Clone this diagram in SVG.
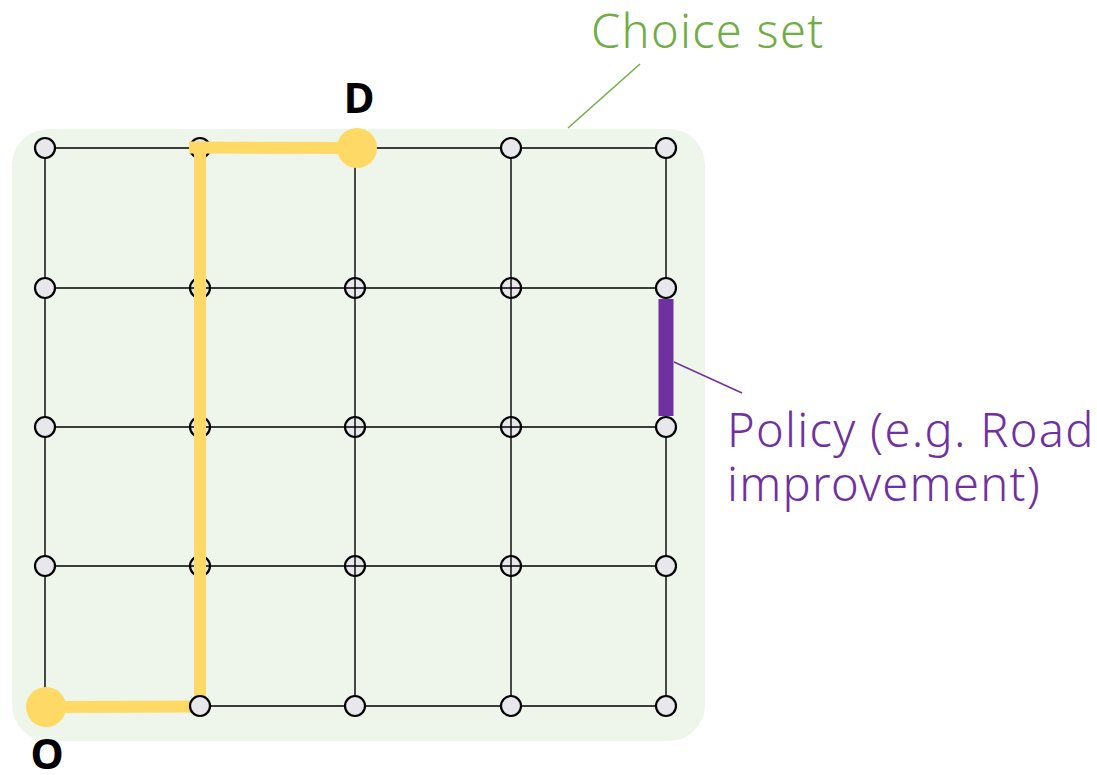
<svg xmlns="http://www.w3.org/2000/svg" width="1097" height="775" viewBox="0 0 1097 775">
  <style>
    .grid { stroke: #000; stroke-width: 1.4; fill: none; }
    .node { fill: #e8e7eb; stroke: #000; stroke-width: 2.2; }
    .path { stroke: #ffd966; stroke-width: 12; fill: none; }
    .end { fill: #ffd966; }
    .lbl { font-family: "Noto Sans", "Liberation Sans", sans-serif; font-size: 47px; font-weight: 300; letter-spacing: 1.3px; }
    .od { font-family: "Noto Sans", "Liberation Sans", sans-serif; font-size: 42px; font-weight: bold; fill: #000; text-anchor: middle; }
  </style>
  <defs>
    <circle id="n" r="10" class="node"/>
  </defs>

  <!-- choice set area -->
  <rect id="choice-set" x="12" y="129" width="693" height="612" rx="36" ry="36" fill="#eef6ec"/>

  <!-- interior nodes (lines pass over them) -->
  <g id="nodes-inner">
    <use href="#n" x="200" y="288"/><use href="#n" x="355" y="288"/><use href="#n" x="511" y="288"/>
    <use href="#n" x="200" y="427"/><use href="#n" x="355" y="427"/><use href="#n" x="511" y="427"/>
    <use href="#n" x="200" y="566"/><use href="#n" x="355" y="566"/><use href="#n" x="511" y="566"/>
  </g>

  <!-- road network -->
  <g id="connectors">
    <path class="grid" d="M45 148H666M45 288H666M45 427H666M45 566H666M45 706H666"/>
    <path class="grid" d="M45 148V706M200 148V706M355 148V706M511 148V706M666 148V706"/>
  </g>

  <!-- boundary nodes -->
  <g id="nodes-edge">
    <use href="#n" x="45" y="148"/><use href="#n" x="200" y="148"/><use href="#n" x="511" y="148"/><use href="#n" x="666" y="148"/>
    <use href="#n" x="45" y="288"/><use href="#n" x="666" y="288"/>
    <use href="#n" x="45" y="427"/><use href="#n" x="666" y="427"/>
    <use href="#n" x="45" y="566"/><use href="#n" x="666" y="566"/>
    <use href="#n" x="355" y="706"/><use href="#n" x="511" y="706"/><use href="#n" x="666" y="706"/>
  </g>

  <!-- chosen route O -> D -->
  <g id="route">
    <line class="path" x1="46" y1="707" x2="196" y2="706.5"/>
    <line class="path" x1="200" y1="706" x2="200" y2="148"/>
    <line class="path" x1="189" y1="147.5" x2="357" y2="148"/>
  </g>
  <g id="node-200-706"><use href="#n" x="200" y="706"/></g>

  <g id="origin">
    <circle class="end" cx="46" cy="707" r="20"/>
    <text class="od" x="47" y="769">O</text>
  </g>
  <g id="destination">
    <circle class="end" cx="357" cy="148" r="20"/>
    <text class="od" x="359" y="113">D</text>
  </g>

  <!-- improved link -->
  <g id="policy">
    <rect x="658.5" y="299" width="15" height="117" fill="#7030a0"/>
    <line x1="674" y1="362" x2="742" y2="393" stroke="#7030a0" stroke-width="1.5"/>
    <text class="lbl" fill="#7030a0" x="727" y="447">Policy (e.g. Road</text>
    <text class="lbl" fill="#7030a0" x="727" y="501">improvement)</text>
  </g>

  <g id="choice-set-label">
    <line x1="640" y1="64" x2="568" y2="128" stroke="#70ad47" stroke-width="1.5"/>
    <text class="lbl" fill="#70ad47" x="591" y="48">Choice set</text>
  </g>
</svg>
